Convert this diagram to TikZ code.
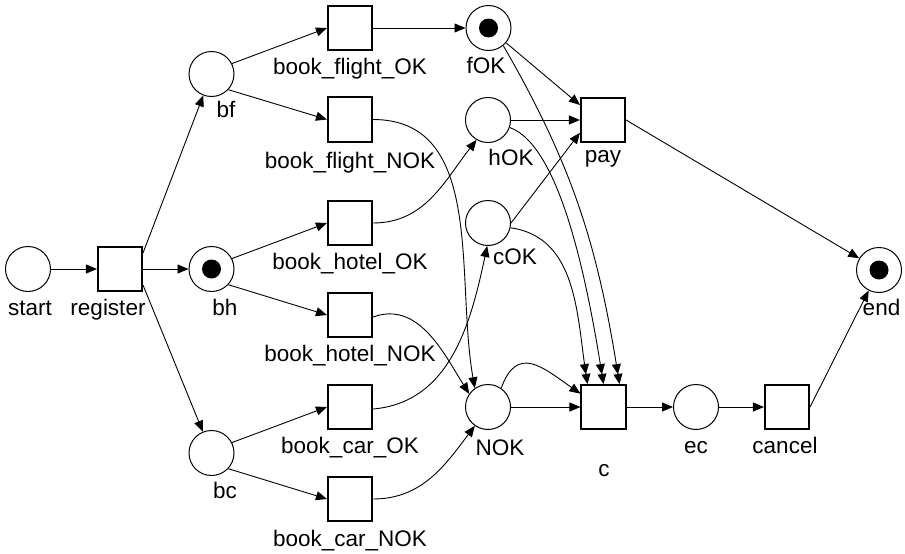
\documentclass[tikz,border=0pt]{standalone}
\usepackage{fontspec}
\setmainfont{Liberation Sans}
\usetikzlibrary{positioning, arrows.meta}
\tikzset{
  plc/.style={circle, draw, line width=1pt, minimum size=45pt, inner sep=0pt},
  trn/.style={rectangle, draw, line width=1.6pt, minimum size=44.5pt, inner sep=0pt},
  lbl/.style={anchor=base, inner sep=0pt, font=\fontsize{22.5}{27}\selectfont},
  arc/.style={-{Triangle[length=11pt, width=9pt]}, line width=0.9pt},
  reset/.style={-{Triangle[length=10pt, width=9pt]Triangle[length=10pt, width=9pt]}, line width=0.9pt},
}

\begin{document}
\begin{tikzpicture}[x=1pt, y=1pt]
    \useasboundingbox (0,0) rectangle (905,-554);
    % places
    \node[plc] (start) at (28,-269) {};
    \node[plc] (bf) at (211.5,-74) {};
    \node[plc] (bh) at (211.5,-269) {};
    \node[plc] (bc) at (211.5,-453) {};
    \node[plc] (fOK) at (488.5,-28) {};
    \node[plc] (hOK) at (488,-120) {};
    \node[plc] (cOK) at (488,-223) {};
    \node[plc] (NOK) at (488,-407) {};
    \node[plc] (ec) at (696,-407) {};
    \node[plc] (end) at (879,-270) {};
    % transitions
    \node[trn] (register) at (120,-269) {};
    \node[trn] (bfOK) at (350,-28) {};
    \node[trn] (bfNOK) at (350,-119.5) {};
    \node[trn] (bhOK) at (350,-223) {};
    \node[trn] (bhNOK) at (350,-315) {};
    \node[trn] (bcOK) at (350,-407) {};
    \node[trn] (bcNOK) at (350,-499) {};
    \node[trn] (pay) at (603,-120) {};
    \node[trn] (c) at (603.5,-407) {};
    \node[trn] (cancel) at (787,-407) {};
    % tokens
    \fill (bh) circle (9.5pt); \fill (fOK) circle (9.5pt); \fill (end) circle (9.5pt);
    % labels
    \node[lbl] (l-start) at (30,-315) {start};
    \node[lbl] (l-register) at (108,-315) {register};
    \node[lbl] (l-bf) at (226,-117) {bf};
    \node[lbl] (l-bh) at (225,-315) {bh};
    \node[lbl] (l-bc) at (225,-498) {bc};
    \node[lbl] (l-bfOK) at (350,-74) {book\_flight\_OK};
    \node[lbl] (l-bfNOK) at (350,-168) {book\_flight\_NOK};
    \node[lbl] (l-bhOK) at (350,-269) {book\_hotel\_OK};
    \node[lbl] (l-bhNOK) at (350,-361) {book\_hotel\_NOK};
    \node[lbl] (l-bcOK) at (350,-453) {book\_car\_OK};
    \node[lbl] (l-bcNOK) at (350,-546) {book\_car\_NOK};
    \node[lbl] (l-fOK) at (486,-73) {fOK};
    \node[lbl] (l-hOK) at (511,-165) {hOK};
    \node[lbl] (l-cOK) at (515,-264) {cOK};
    \node[lbl] (l-NOK) at (500,-455) {NOK};
    \node[lbl] (l-pay) at (603,-162) {pay};
    \node[lbl] (l-c) at (604,-476) {c};
    \node[lbl] (l-ec) at (696,-453) {ec};
    \node[lbl] (l-cancel) at (785,-453) {cancel};
    \node[lbl] (l-end) at (881.5,-315) {end};
    % arcs
    \draw[arc] (start) -- (register); \draw[arc] (register) -- (bh);
    \draw[arc] (register.35) -- (bf); \draw[arc] (register.-35) -- (bc);
    \draw[arc] (bf.27) -- (bfOK.west); \draw[arc] (bf.-43) -- (bfNOK.west);
    \draw[arc] (bh.27) -- (bhOK.west); \draw[arc] (bh.-43) -- (bhNOK.west);
    \draw[arc] (bc.27) -- (bcOK.west); \draw[arc] (bc.-43) -- (bcNOK.west);
    \draw[arc] (bfOK) -- (fOK);
    \draw[arc] (bfNOK.east) to[out=0, in=100] (NOK.125);
    \draw[arc] (bhOK.east) to[out=0, in=232] (hOK.240);
    \draw[arc] (bhNOK.-5) to[out=20, in=122] (NOK.145);
    \draw[arc] (bcOK.-5) to[out=5, in=258] (cOK.268);
    \draw[arc] (bcNOK.east) to[out=0, in=233] (NOK.235);
    \draw[arc] (fOK) -- (pay.147); \draw[arc] (hOK) -- (pay); \draw[arc] (cOK.east) -- (pay.209);
    \draw[reset] (fOK.-50) to[out=-60, in=99] ([xshift=16pt]c.north);
    \draw[reset] (hOK.-19) to[out=-20, in=99, out looseness=0.5] (c.north);
    \draw[reset] (cOK.-12) to[out=-8, in=99] ([xshift=-16pt]c.north);
    \draw[arc] (NOK) -- (c); \draw[arc] (NOK.55) to[out=70, in=145, looseness=1.5] (c.150);
    \draw[arc] (pay.east) -- (end);
    \draw[arc] (c) -- (ec); \draw[arc] (ec) -- (cancel); \draw[arc] (cancel.east) -- (end);
\end{tikzpicture}
\end{document}
